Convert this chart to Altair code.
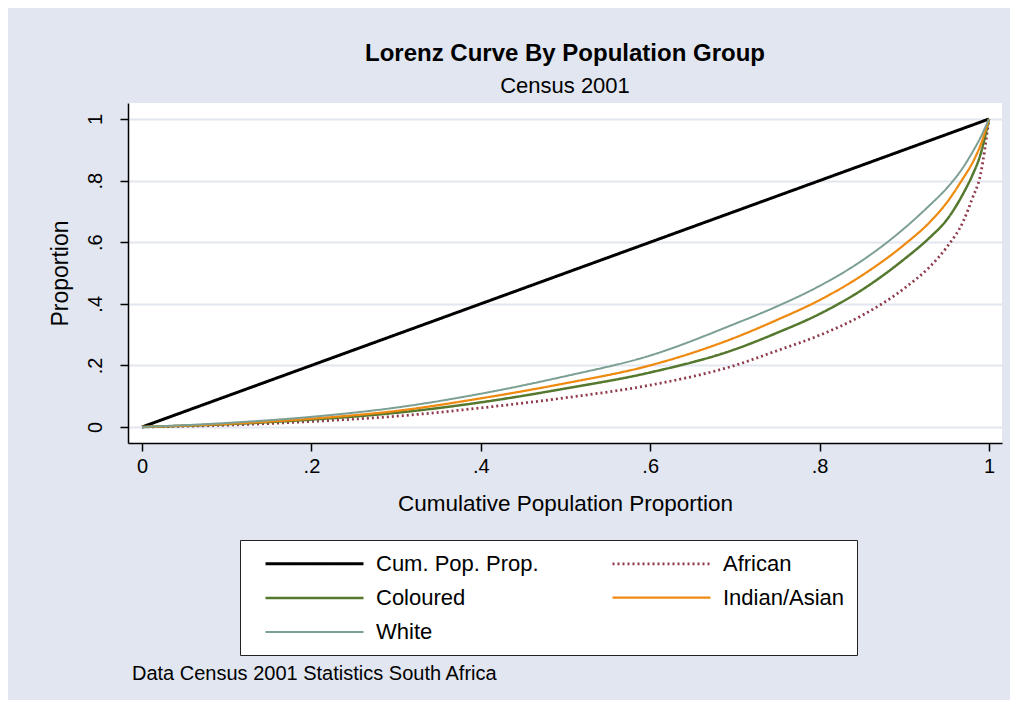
import altair as alt
import pandas as pd

# ---- data ----
series_names = ["Cum. Pop. Prop.", "African", "Coloured", "Indian/Asian", "White"]
series_colors = ["#000000", "#8E3A4A", "#55782F", "#EE8A10", "#7C9F93"]
series_dash = [[1, 0], [2, 3], [1, 0], [1, 0], [1, 0]]
series_width = [3, 2.0, 2.4, 2.4, 2.4]

equal_x = [0.0, 1.0]
equal_y = [0.0, 1.0]

pop_x = [0.0, 0.1, 0.2, 0.3, 0.4, 0.5, 0.6, 0.7, 0.75, 0.8, 0.85, 0.9, 0.93, 0.95, 0.97, 0.98, 0.99, 1.0]
african = [0.0, 0.006, 0.018, 0.035, 0.062, 0.095, 0.136, 0.200, 0.248, 0.298, 0.362, 0.450, 0.520, 0.583, 0.670, 0.740, 0.820, 1.0]
coloured = [0.0, 0.009, 0.024, 0.046, 0.080, 0.125, 0.177, 0.252, 0.306, 0.367, 0.445, 0.545, 0.615, 0.672, 0.760, 0.815, 0.885, 1.0]
indian = [0.0, 0.010, 0.027, 0.052, 0.093, 0.142, 0.200, 0.290, 0.348, 0.412, 0.492, 0.592, 0.665, 0.728, 0.810, 0.855, 0.915, 1.0]
white = [0.0, 0.013, 0.033, 0.063, 0.108, 0.165, 0.232, 0.335, 0.392, 0.458, 0.540, 0.645, 0.720, 0.775, 0.845, 0.890, 0.940, 1.0]

x_ticks = [0, 0.2, 0.4, 0.6, 0.8, 1]
y_ticks = [0, 0.2, 0.4, 0.6, 0.8, 1]

footnote = "Data Census 2001 Statistics South Africa"

rows = []
for xv, yv in zip(equal_x, equal_y):
    rows.append({"series": series_names[0], "x": xv, "y": yv})
for name, vals in zip(series_names[1:], [african, coloured, indian, white]):
    for xv, yv in zip(pop_x, vals):
        rows.append({"series": name, "x": xv, "y": yv})
df = pd.DataFrame(rows)

FONT = "Liberation Sans"
tick_label_expr = "datum.value == 0 ? '0' : datum.value == 1 ? '1' : '.' + format(datum.value * 10, 'd')"

legend = alt.Legend(
    title=None, orient="none", legendX=112, legendY=437, columns=2, direction="horizontal",
    symbolType="M-5,0H5", symbolSize=384, symbolStrokeWidth=2.2,
    labelFontSize=22, labelFont=FONT, labelColor="black", labelOffset=50, labelLimit=400,
    padding=12, symbolOffset=51, columnPadding=60, rowPadding=11.5,
    strokeColor="#222222", fillColor="white",
)

lines = alt.Chart(df).mark_line(interpolate="monotone").encode(
    x=alt.X("x:Q", title="Cumulative Population Proportion",
            scale=alt.Scale(domain=[-0.0166, 1.0154], nice=False, zero=False),
            axis=alt.Axis(values=x_ticks, labelExpr=tick_label_expr, grid=False)),
    y=alt.Y("y:Q", title="Proportion",
            scale=alt.Scale(domain=[-0.052, 1.052], nice=False, zero=False),
            axis=alt.Axis(values=y_ticks, labelExpr=tick_label_expr, grid=True,
                          labelAngle=270, labelAlign="center", labelBaseline="bottom")),
    color=alt.Color("series:N", scale=alt.Scale(domain=series_names, range=series_colors), legend=legend),
    strokeDash=alt.StrokeDash("series:N", scale=alt.Scale(domain=series_names, range=series_dash), legend=legend),
    strokeWidth=alt.StrokeWidth("series:N", scale=alt.Scale(domain=series_names, range=series_width), legend=None),
    order=alt.Order("x:Q"),
)

note = alt.Chart(pd.DataFrame({"note": [footnote]})).mark_text(
    align="left", baseline="middle", fontSize=20, font=FONT, color="black"
).encode(x=alt.value(4), y=alt.value(571), text="note:N")

chart = alt.layer(lines, note).properties(
    width=874, height=340,
    title=alt.TitleParams(
        "Lorenz Curve By Population Group", subtitle="Census 2001",
        font=FONT, subtitleFont=FONT, fontSize=24, subtitleFontSize=22,
        fontWeight="bold", color="black", subtitleColor="black",
        anchor="middle", frame="group", offset=6, subtitlePadding=10,
    ),
    padding={"left": 120, "top": 95, "right": 8, "bottom": 257},
    autosize=alt.AutoSizeParams(type="none"),
).configure(
    background="#E1E6F0",
).configure_view(
    fill="white", stroke=None,
).configure_axis(
    domainColor="black", domainWidth=1.5, tickColor="black", tickWidth=1.5, tickSize=8,
    labelFont=FONT, labelFontSize=20, labelColor="black", labelPadding=5,
    titleFont=FONT, titleColor="black", titleFontWeight="normal",
    gridColor="#E1E6F0", gridWidth=2,
).configure_axisX(titlePadding=16, titleFontSize=22.5).configure_axisY(
    titlePadding=13, labelPadding=15, titleFontSize=23)

chart.save("out.html", embed_options={"renderer": "svg", "actions": False})
